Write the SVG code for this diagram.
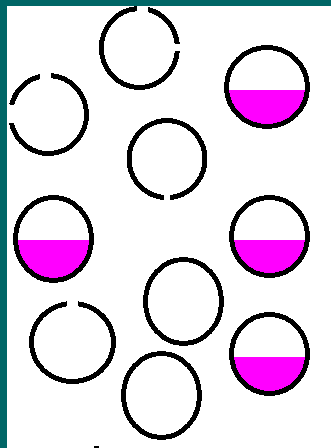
<svg xmlns="http://www.w3.org/2000/svg" width="331" height="448" viewBox="0 0 331 448">
<style>
.ring{fill:none;stroke:#000;stroke-width:5;shape-rendering:crispEdges}
.liq{fill:#ff00ff;stroke:none;shape-rendering:crispEdges}
.frame{fill:#006666;shape-rendering:crispEdges}
</style>
<rect x="0" y="0" width="331" height="448" fill="#fff"/>
<g id="circle-a">
<path class="ring" d="M148,9.5 A38 39.5 0 0 1 177.3,44 M177.3,51 A38 39.5 0 1 1 137,8.6"/>
</g>
<g id="circle-b">
<path class="liq" d="M226.6,90 L307.4,90 A40.5 39.5 0 0 1 226.6,90 Z"/>
<ellipse class="ring" cx="267" cy="87" rx="40.5" ry="39.5"/>
</g>
<g id="circle-c">
<path class="ring" d="M51,75.6 A38 39 0 1 1 11.4,123 M11.6,105 A38 39 0 0 1 40,76.5"/>
</g>
<g id="circle-d">
<path class="ring" d="M164,197.5 A38 38.5 0 1 1 170,197.5"/>
</g>
<g id="circle-e">
<path class="liq" d="M15.5,240 L91.5,240 A38 41.5 0 0 1 15.5,240 Z"/>
<ellipse class="ring" cx="53.5" cy="239" rx="38" ry="41.5"/>
</g>
<g id="circle-f">
<path class="liq" d="M231.65,240 L307.35,240 A38 39 0 0 1 231.65,240 Z"/>
<ellipse class="ring" cx="269.5" cy="236.5" rx="38" ry="39"/>
</g>
<g id="circle-g">
<ellipse class="ring" cx="183.5" cy="301.5" rx="38" ry="42"/>
</g>
<g id="circle-h">
<path class="ring" d="M78,303.85 A41 39 0 1 1 67,303.85"/>
</g>
<g id="circle-i">
<path class="liq" d="M231.6,357 L307.4,357 A38 39.5 0 0 1 231.6,357 Z"/>
<ellipse class="ring" cx="269.5" cy="354" rx="38" ry="39.5"/>
</g>
<g id="circle-j">
<ellipse class="ring" cx="161.5" cy="395.5" rx="38" ry="42"/>
</g>
<g id="connectors"></g>
<rect x="94" y="446" width="5" height="2" fill="#000"/>
<rect class="frame" x="0" y="0" width="331" height="6"/>
<rect class="frame" x="0" y="0" width="7" height="448"/>
</svg>
